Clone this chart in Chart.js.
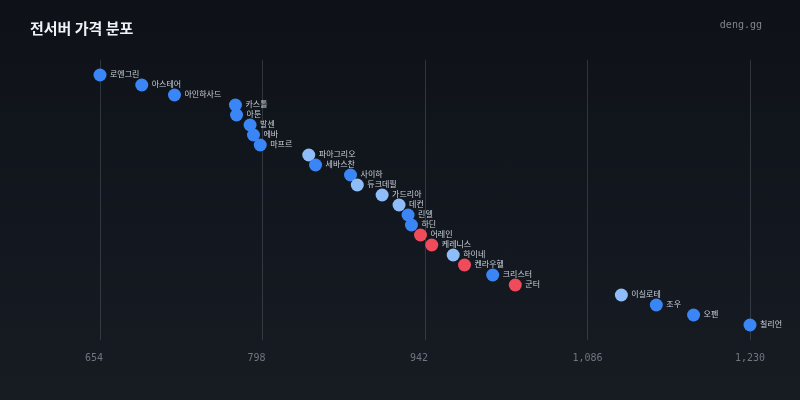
<!DOCTYPE html>
<html>
<head>
<meta charset="utf-8">
<script src="https://cdn.jsdelivr.net/npm/chart.js@4"></script>
<style>
  html, body { margin: 0; padding: 0; }
  body { width: 800px; height: 400px; overflow: hidden; }
  .wrap {
    position: relative; width: 800px; height: 400px;
    background: linear-gradient(180deg, #0e1117 0%, #131820 60%, #171c23 100%);
  }
  #chart { position: absolute; left: 0; top: 0; }
  .title {
    position: absolute; left: 30px; top: 17px;
    font-family: "Noto Sans CJK KR", sans-serif; font-weight: bold; font-size: 15px;
    color: #f0f3f6; line-height: 22px;
  }
  .brand {
    position: absolute; right: 38px; top: 18px;
    font-family: "DejaVu Sans Mono", monospace; font-size: 10px; color: #7d8590; line-height: 14px;
  }
</style>
</head>
<body>
<div class="wrap">
  <canvas id="chart" width="800" height="400"></canvas>
  <div class="title">전서버 가격 분포</div>
  <div class="brand">deng.gg</div>
</div>
<script>
// servers, top to bottom
const servers = ['로엔그린','아스테어','아인하사드','카스톨','아툰','발센','에바','마프르','파아그리오','세바스찬',
  '사이하','듀크데필','가드리아','데컨','린델','하딘','어레인','케레니스','하이네','켄라우헬',
  '크리스터','군터','이실로테','조우','오펜','칠리언'];
const prices = [654,691,720,774,775,787,790,796,839,845,
  876,882,904,919,927,930,938,948,967,977,
  1002,1022,1116,1147,1180,1230];
// group of each server (a = blue, b = light blue, c = red)
const groups = ['a','a','a','a','a','a','a','a','b','a',
  'a','b','b','b','a','a','c','c','b','c',
  'a','c','b','a','a','a'];
const xTicks = [654,798,942,1086,1230];

const groupColors = { a: '#3b86f7', b: '#8fbdf9', c: '#f04b5b' };

const points = prices.map((p, i) => ({ x: p, y: i }));

// draw server names next to each point
const nameLabels = {
  id: 'nameLabels',
  afterDatasetsDraw(chart) {
    const ctx = chart.ctx;
    const meta = chart.getDatasetMeta(0);
    ctx.save();
    ctx.font = '8px "Noto Sans CJK KR", sans-serif';
    ctx.fillStyle = '#c9d1d9';
    ctx.textBaseline = 'middle';
    ctx.textAlign = 'left';
    meta.data.forEach((pt, i) => {
      ctx.fillText(servers[i], pt.x + 10, pt.y - 1);
    });
    ctx.restore();
  }
};

const config = {
  type: 'scatter',
  data: {
    datasets: [{
      data: points,
      backgroundColor: groups.map(g => groupColors[g]),
      borderWidth: 0,
      pointRadius: 6.5,
      pointHoverRadius: 6.5,
      clip: false
    }]
  },
  options: {
    responsive: false,
    animation: false,
    layout: { padding: { left: 100, right: 50, top: 60, bottom: 24 } },
    plugins: { legend: { display: false }, tooltip: { enabled: false } },
    scales: {
      x: {
        type: 'linear',
        min: xTicks[0],
        max: xTicks[xTicks.length - 1],
        afterBuildTicks: (scale) => { scale.ticks = xTicks.map(v => ({ value: v })); },
        border: { display: false },
        grid: { color: 'rgba(110,118,129,0.35)', lineWidth: 1, drawTicks: false },
        ticks: {
          padding: 12,
          color: '#6e7681',
          font: { family: '"DejaVu Sans Mono", monospace', size: 10 },
          maxRotation: 0,
          autoSkip: false,
          callback: (v) => v.toLocaleString('en-US').padEnd(5, ' ')
        }
      },
      y: {
        type: 'linear',
        display: false,
        reverse: true,
        min: -1.5,
        max: 26.5
      }
    }
  },
  plugins: [nameLabels]
};

new Chart(document.getElementById('chart'), config);
</script>
</body>
</html>
